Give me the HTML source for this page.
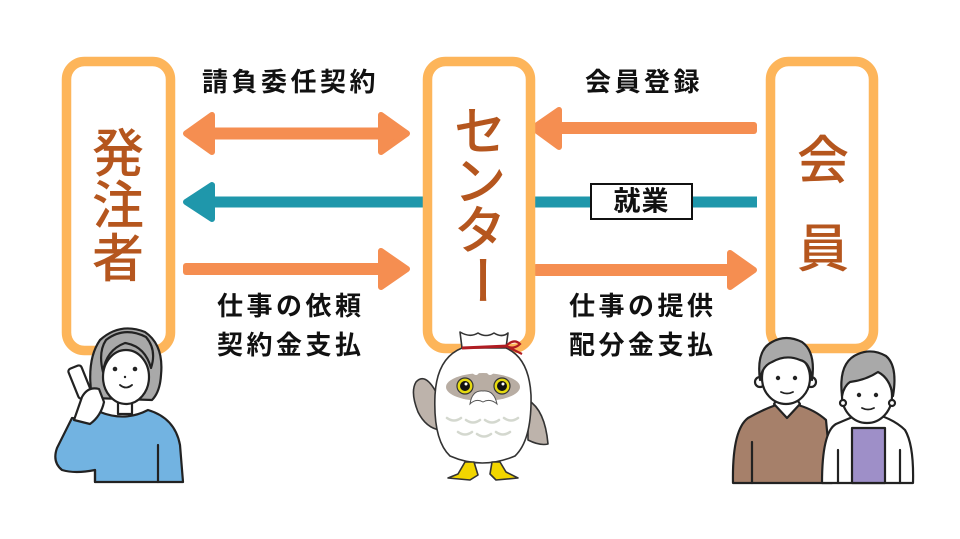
<!DOCTYPE html>
<html><head><meta charset="utf-8"><style>
html,body{margin:0;padding:0;background:#fff;}
svg{display:block;}
text{font-family:"Liberation Sans","Noto Sans CJK JP",sans-serif;}
.lbl{font-size:26px;font-weight:700;fill:#111;letter-spacing:3.5px;dominant-baseline:central;}
.big{font-size:52px;font-weight:500;fill:#b5561e;text-anchor:middle;dominant-baseline:central;}
</style></head><body>
<svg width="960" height="539" viewBox="0 0 960 539" xmlns="http://www.w3.org/2000/svg">
<rect width="960" height="539" fill="#fff"/>

<!-- arrows -->
<g fill="#f58e51" stroke="#f58e51" stroke-width="6" stroke-linejoin="round">
  <rect x="205" y="130.5" width="180" height="6" />
  <polygon points="186,133.5 212,115 212,152"/>
  <polygon points="407,133.5 381,115 381,152"/>
  <rect x="186" y="266" width="200" height="6"/>
  <polygon points="407,269 381,251 381,287"/>
  <rect x="555" y="125" width="199" height="6"/>
  <polygon points="533,128 559,110 559,147"/>
  <rect x="536" y="267" width="200" height="6"/>
  <polygon points="754,270 730,253 730,287"/>
</g>
<g fill="#1f97ab" stroke="#1f97ab" stroke-width="6" stroke-linejoin="round">
  <rect x="205" y="199.5" width="222" height="5"/>
  <polygon points="186,202 212,185 212,219"/>
</g>
<rect x="530" y="196.5" width="227" height="11" fill="#1f97ab"/>
<rect x="591" y="184" width="101" height="35" fill="#fff" stroke="#111" stroke-width="2"/>
<text x="641.5" y="201.5" text-anchor="middle" dominant-baseline="central" style="font-size:27px;font-weight:700;fill:#111;letter-spacing:1px">就業</text>

<!-- boxes -->
<g fill="none" stroke="#fdb55a" stroke-width="9.5">
  <rect x="66.5" y="61.5" width="104" height="289" rx="18"/>
  <rect x="427.5" y="61.5" width="103" height="287" rx="18"/>
  <rect x="770.5" y="61.5" width="103" height="287" rx="18"/>
</g>

<!-- big labels -->
<text class="big" x="118" y="155">発</text>
<text class="big" x="118" y="207">注</text>
<text class="big" x="118" y="260">者</text>
<text class="big" x="480" y="133">セ</text>
<text class="big" x="480" y="183">ン</text>
<text class="big" x="480" y="232">タ</text>
<text class="big" transform="translate(480,280) rotate(90)" x="0" y="0">ー</text>
<text class="big" x="823" y="162">会</text>
<text class="big" x="823" y="250">員</text>

<!-- small labels -->
<text class="lbl" x="202" y="82">請負委任契約</text>
<text class="lbl" x="585" y="82">会員登録</text>
<text class="lbl" x="217" y="306">仕事の依頼</text>
<text class="lbl" x="217" y="345">契約金支払</text>
<text class="lbl" x="569" y="306">仕事の提供</text>
<text class="lbl" x="569" y="345">配分金支払</text>

<!-- woman left -->
<g stroke="#222" stroke-width="2.2" stroke-linejoin="round" stroke-linecap="round">
  <path fill="#72b3e1" d="M84 420 L100 412 Q125 422 148 410 Q175 418 180 445 L183 482 L95 482 L95 470 Q75 474 62 470 Q52 462 57 448 L72 418 Z"/>
  <path fill="none" d="M158 445 L158 482 M95 470 L95 482"/>
  <path fill="#a9a9a9" d="M92 398 Q86 360 100 340 Q120 322 145 332 Q164 345 161 375 Q160 392 152 400 Z"/>
  <rect x="118" y="396" width="14" height="18" fill="#fff"/>
  <ellipse cx="126" cy="377" rx="23" ry="27" fill="#fff"/>
  <path fill="#a9a9a9" d="M103 372 Q106 350 125 343 Q145 346 151 368 Q157 350 146 337 Q124 326 106 340 Q98 352 103 372 Z"/>
  <rect x="73" y="366" width="14" height="32" rx="3" fill="#fff" transform="rotate(-22 80 382)"/>
  <path fill="#fff" d="M74 420 L82 397 Q88 386 99 389 L104 402 Q101 416 90 424 Z"/>
</g>
<g fill="#222">
  <circle cx="115" cy="369" r="2.3"/><circle cx="135" cy="369" r="2.3"/><circle cx="125" cy="377" r="1.2"/>
</g>
<path d="M120 385 Q126 390 132 385" fill="none" stroke="#222" stroke-width="1.8" stroke-linecap="round"/>

<!-- owl -->
<g stroke="#333" stroke-width="1.6" stroke-linejoin="round">
  <path fill="#bdb3ab" d="M436 392 Q425 372 416 382 Q410 392 418 412 Q426 428 440 430 Z"/>
  <path fill="#bdb3ab" d="M528 400 Q545 410 548 444 Q540 446 528 440 Z"/>
  <path fill="#fff" d="M460 332 Q470 338 478 333 Q486 338 494 333 Q502 338 508 333 L506 348 L462 348 Z"/>
  <path fill="#fff" d="M462 348 Q437 358 435 395 Q433 440 450 456 Q482 470 515 456 Q532 440 531 395 Q529 358 506 348 Z"/>
  <path fill="#f2d600" d="M465 462 L458 474 L448 478 L470 480 L478 475 L474 462 Z"/>
  <path fill="#f2d600" d="M492 462 L490 474 L496 480 L518 478 L506 472 L500 462 Z"/>
</g>
<path d="M462 348 L508 346" stroke="#b01c22" stroke-width="3" fill="none"/>
<path d="M506 346 Q514 338 520 344 Q514 350 506 346 M508 347 L522 354" stroke="#b01c22" stroke-width="2.2" fill="none"/>
<ellipse cx="483" cy="387" rx="37" ry="14" fill="#b8ada3"/>
<path d="M450 372 Q462 362 476 372 M490 372 Q504 362 516 372" stroke="#fff" stroke-width="6" fill="none" stroke-linecap="round"/>
<circle cx="465" cy="386" r="8" fill="#e6da10" stroke="#333" stroke-width="1.2"/>
<circle cx="502" cy="386" r="8" fill="#e6da10" stroke="#333" stroke-width="1.2"/>
<circle cx="465" cy="386" r="5" fill="#111"/><circle cx="502" cy="386" r="5" fill="#111"/>
<circle cx="466" cy="384" r="1.5" fill="#fff"/><circle cx="503" cy="384" r="1.5" fill="#fff"/>
<path d="M470 404 Q472 390 483 391 Q494 390 497 404 Q490 398 483 402 Q476 398 470 404 Z" fill="#fff" stroke="#555" stroke-width="1"/>
<g stroke="#d4d8cf" stroke-width="2.5" fill="none" stroke-linecap="round">
  <path d="M447 418 Q454 423 461 418 M466 420 Q473 425 480 420 M485 420 Q492 425 499 420 M504 418 Q511 423 518 418"/>
  <path d="M458 432 Q465 437 472 432 M477 434 Q484 439 491 434 M496 432 Q503 437 510 432"/>
</g>

<!-- elderly man -->
<g stroke="#222" stroke-width="2.2" stroke-linejoin="round" stroke-linecap="round">
  <path fill="#a6806a" d="M733 483 Q732 430 748 418 Q762 410 776 405 L798 405 Q815 410 826 420 L832 483 Z"/>
  <path fill="none" d="M752 442 L752 483"/>
  <path fill="#fff" d="M774 404 L787 418 L800 404 L796 398 L778 398 Z"/>
  <circle cx="760" cy="382" r="5" fill="#fff"/><circle cx="811" cy="382" r="5" fill="#fff"/>
  <ellipse cx="786" cy="378" rx="24" ry="26" fill="#fff"/>
  <path fill="#a9a9a9" d="M760 380 Q756 350 772 342 Q786 334 802 342 Q816 352 812 380 Q810 362 800 360 Q786 354 772 362 Q762 366 760 380 Z"/>
</g>
<g fill="#222"><circle cx="778" cy="378" r="2.2"/><circle cx="795" cy="378" r="2.2"/></g>
<path d="M781 392 Q787 395 793 392" fill="none" stroke="#222" stroke-width="1.8" stroke-linecap="round"/>

<!-- elderly woman -->
<g stroke="#222" stroke-width="2.2" stroke-linejoin="round" stroke-linecap="round">
  <path fill="#fff" d="M822 483 Q822 432 836 424 Q850 418 860 414 L876 414 Q895 420 905 430 Q914 445 913 483 Z"/>
  <path fill="#9e8fc8" d="M852 483 L852 428 L885 428 L885 483 Z"/>
  <path fill="none" d="M838 450 L838 483 M900 450 L900 483"/>
  <ellipse cx="867" cy="396" rx="25" ry="27" fill="#fff"/>
  <circle cx="843" cy="403" r="3" fill="#fff"/><circle cx="892" cy="403" r="3" fill="#fff"/>
  <path fill="#a9a9a9" d="M842 396 Q838 362 858 354 Q872 348 886 356 Q898 366 893 396 Q890 378 878 372 Q866 380 850 382 Q844 386 842 396 Z"/>
</g>
<g fill="#222"><circle cx="859" cy="395" r="2.2"/><circle cx="876" cy="395" r="2.2"/></g>
<path d="M862 408 Q868 411 874 408" fill="none" stroke="#222" stroke-width="1.8" stroke-linecap="round"/>
</svg>
</body></html>
